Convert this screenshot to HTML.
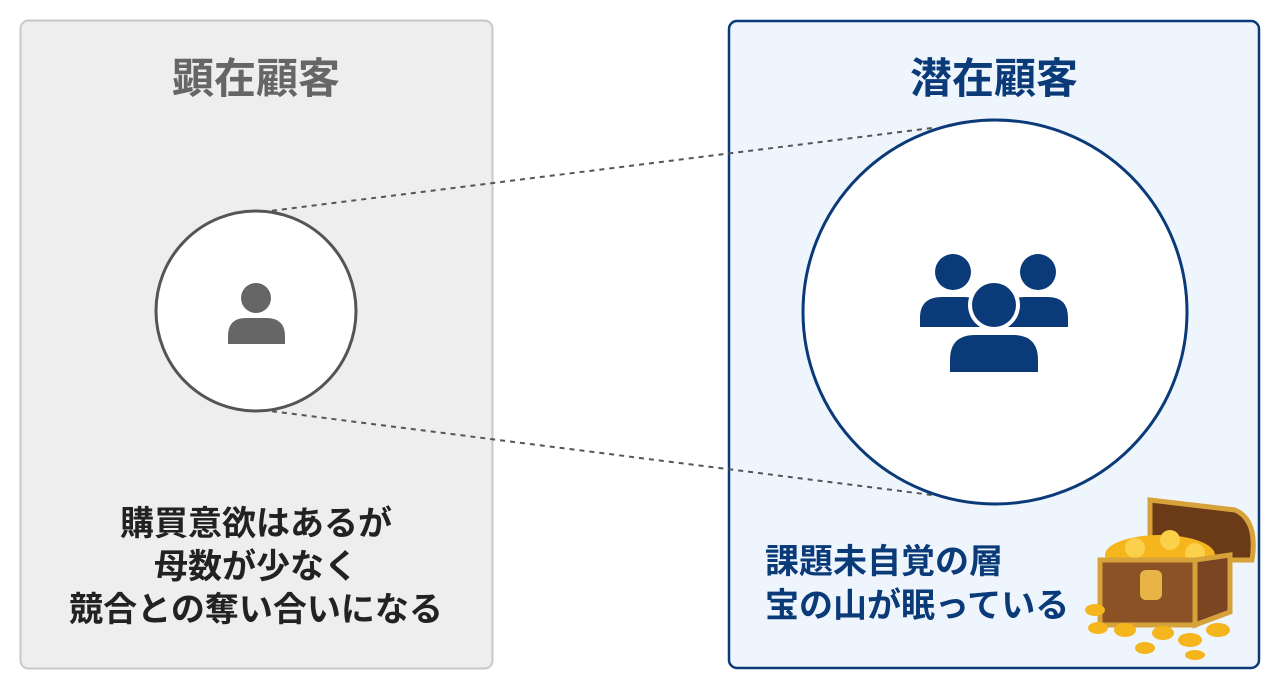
<!DOCTYPE html>
<html><head><meta charset="utf-8"><style>
body{margin:0;width:1280px;height:690px;background:#fff;font-family:"Liberation Sans","Noto Sans CJK JP",sans-serif;position:relative;overflow:hidden}
.t{position:absolute;font-weight:bold;white-space:nowrap}
</style></head><body>
<svg width="1280" height="690" style="position:absolute;left:0;top:0">
<rect x="20.5" y="20.5" width="472" height="648" rx="8" fill="#eeeeee" stroke="#c8c8c8" stroke-width="2"/>
<rect x="729" y="21" width="530" height="647" rx="8" fill="#eef5fd" stroke="#0a3a78" stroke-width="2.5"/>
<line x1="262" y1="212" x2="932" y2="128" stroke="#555" stroke-width="2" stroke-dasharray="5,5"/>
<line x1="262" y1="410" x2="932" y2="495" stroke="#555" stroke-width="2" stroke-dasharray="5,5"/>
<circle cx="256" cy="311" r="100" fill="#fff" stroke="#555" stroke-width="3"/>
<circle cx="256" cy="298" r="15" fill="#666"/>
<path d="M228 344 L228 336 Q228 318 246 318 L266 318 Q285 318 285 336 L285 344 Z" fill="#666"/>
<circle cx="995" cy="312" r="192" fill="#fff" stroke="#0a3a78" stroke-width="3"/>
<g fill="#0a3a78">
<circle cx="953" cy="272" r="18"/><circle cx="1038" cy="272" r="18"/>
<path d="M920 327 L920 318 Q920 297 942 297 L965 297 Q985 297 985 318 L985 327 Z"/>
<path d="M1003 327 L1003 318 Q1003 297 1025 297 L1048 297 Q1068 297 1068 318 L1068 327 Z"/>
<circle cx="994" cy="305" r="26" fill="#fff"/>
<path d="M944 376 L944 360 Q944 331 973 331 L1015 331 Q1044 331 1044 360 L1044 376 Z" fill="#fff"/>
<circle cx="994" cy="305" r="22"/>
<path d="M950 372 L950 360 Q950 335 975 335 L1013 335 Q1038 335 1038 360 L1038 372 Z"/>
</g>
<path d="M1150 500 L1235 510 Q1258 520 1252 560 L1195 560 L1150 555 Z" fill="#6b3a17" stroke="#d7a23a" stroke-width="5"/>
<ellipse cx="1160" cy="555" rx="55" ry="20" fill="#f5b51c"/>
<circle cx="1135" cy="548" r="10" fill="#fcd04b"/><circle cx="1170" cy="540" r="10" fill="#fcd04b"/><circle cx="1195" cy="553" r="10" fill="#fcd04b"/>
<rect x="1100" y="560" width="95" height="65" fill="#8a5225" stroke="#d7a23a" stroke-width="5"/>
<path d="M1195 560 L1230 555 L1230 612 L1195 625 Z" fill="#7a4520" stroke="#d7a23a" stroke-width="5"/>
<rect x="1140" y="570" width="22" height="30" rx="6" fill="#e9b446"/>
<g fill="#f5b51c"><ellipse cx="1095" cy="610" rx="10" ry="6"/><ellipse cx="1098" cy="628" rx="10" ry="6"/><ellipse cx="1125" cy="630" rx="11" ry="7"/><ellipse cx="1163" cy="633" rx="11" ry="7"/><ellipse cx="1190" cy="640" rx="12" ry="7"/><ellipse cx="1218" cy="630" rx="12" ry="7"/><ellipse cx="1145" cy="648" rx="10" ry="6"/><ellipse cx="1195" cy="655" rx="10" ry="5"/></g>
</svg>
<div class="t" style="left:106px;top:54px;width:300px;text-align:center;font-size:42px;line-height:50px;color:#666">顕在顧客</div>
<div class="t" style="left:844px;top:54px;width:300px;text-align:center;font-size:42px;line-height:50px;color:#0a3a78">潜在顧客</div>
<div class="t" style="left:16px;top:503px;width:480px;text-align:center;font-size:34px;line-height:43px;color:#222">購買意欲はあるが<br>母数が少なく<br>競合との奪い合いになる</div>
<div class="t" style="left:765px;top:540px;font-size:34px;line-height:44px;color:#0a3a78">課題未自覚の層<br>宝の山が眠っている</div>
</body></html>
